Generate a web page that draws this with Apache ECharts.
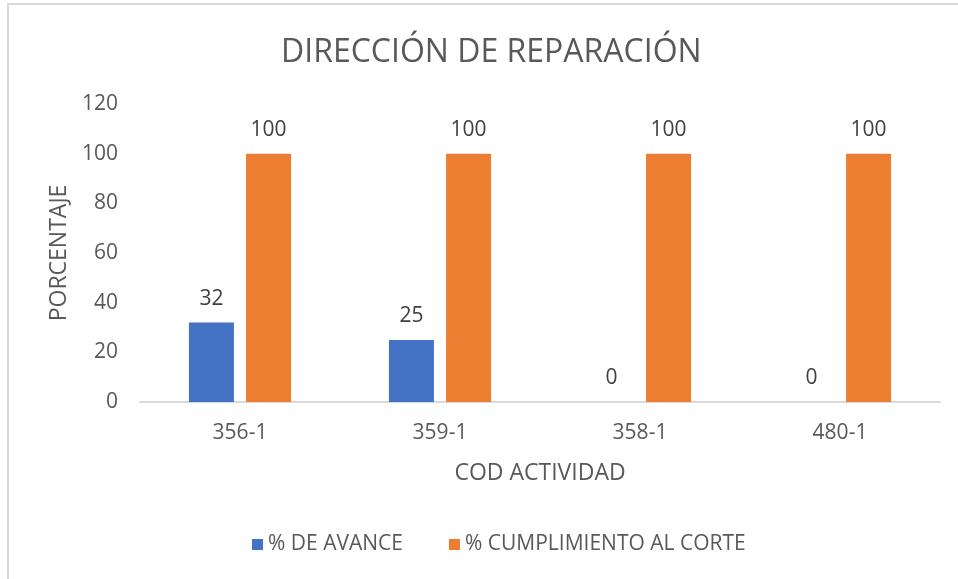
<!DOCTYPE html>
<html lang="es">
<head>
<meta charset="UTF-8">
<title>Dirección de reparación</title>
<style>
  html, body { margin: 0; padding: 0; background: #fff; }
  #wrap { position: relative; width: 958px; height: 579px; }
  #frame { position: absolute; left: 7px; top: 3px; right: 0; bottom: 0;
           border-left: 2px solid #d9d9d9; border-top: 2px solid #d9d9d9; }
  #chart { position: absolute; left: 0; top: 0; width: 958px; height: 579px; }
</style>
</head>
<body>
<div id="wrap">
  <div id="frame"></div>
  <div id="chart"></div>
</div>
<script src="https://cdn.jsdelivr.net/npm/echarts@6/dist/echarts.min.js"></script>
<script>
// datos
var categorias = ['356-1', '359-1', '358-1', '480-1']
var avance = [32, 25, 0, 0]
var cumplimiento = [100, 100, 100, 100]
var serieNombres = ['% DE AVANCE', '% CUMPLIMIENTO AL CORTE']

var fuente = 'Open Sans'
var gris = '#595959'

var chart = echarts.init(document.getElementById('chart'))

var etiqueta = {
  show: true,
  position: 'top',
  distance: 13,
  color: '#404040',
  fontSize: 21,
  fontFamily: fuente
}

var options = {
  animation: false,
  title: {
    text: 'DIRECCIÓN DE REPARACIÓN',
    left: 276,
    top: 32,
    textStyle: { fontSize: 32, fontWeight: 'normal', color: gris, fontFamily: fuente }
  },
  legend: {
    bottom: 19,
    left: 247,
    itemWidth: 11,
    itemHeight: 11,
    itemGap: 46,
    icon: 'rect',
    textStyle: { fontSize: 21, color: gris, fontFamily: fuente },
    data: serieNombres
  },
  grid: { left: 140, right: 18, top: 104, bottom: 177 },
  xAxis: {
    type: 'category',
    data: categorias,
    name: 'COD ACTIVIDAD',
    nameLocation: 'middle',
    nameGap: 60,
    nameTextStyle: { fontSize: 23, color: gris, fontFamily: fuente },
    axisLine: { lineStyle: { color: '#d9d9d9', width: 2 } },
    axisTick: { show: false },
    axisLabel: { fontSize: 21, color: gris, fontFamily: fuente, margin: 21 }
  },
  yAxis: {
    type: 'value',
    min: 0,
    max: 120,
    interval: 20,
    name: 'PORCENTAJE',
    nameLocation: 'middle',
    nameGap: 63,
    nameTextStyle: { fontSize: 23, color: gris, fontFamily: fuente },
    axisLine: { show: false },
    axisTick: { show: false },
    splitLine: { show: false },
    axisLabel: { fontSize: 21, color: gris, fontFamily: fuente, margin: 22 }
  },
  series: [
    {
      name: serieNombres[0],
      type: 'bar',
      data: avance,
      barWidth: 45,
      barGap: '27%',
      itemStyle: { color: '#4472c4' },
      label: etiqueta
    },
    {
      name: serieNombres[1],
      type: 'bar',
      data: cumplimiento,
      barWidth: 45,
      itemStyle: { color: '#ed7d31' },
      label: etiqueta
    }
  ]
}

chart.setOption(options)
</script>
</body>
</html>
